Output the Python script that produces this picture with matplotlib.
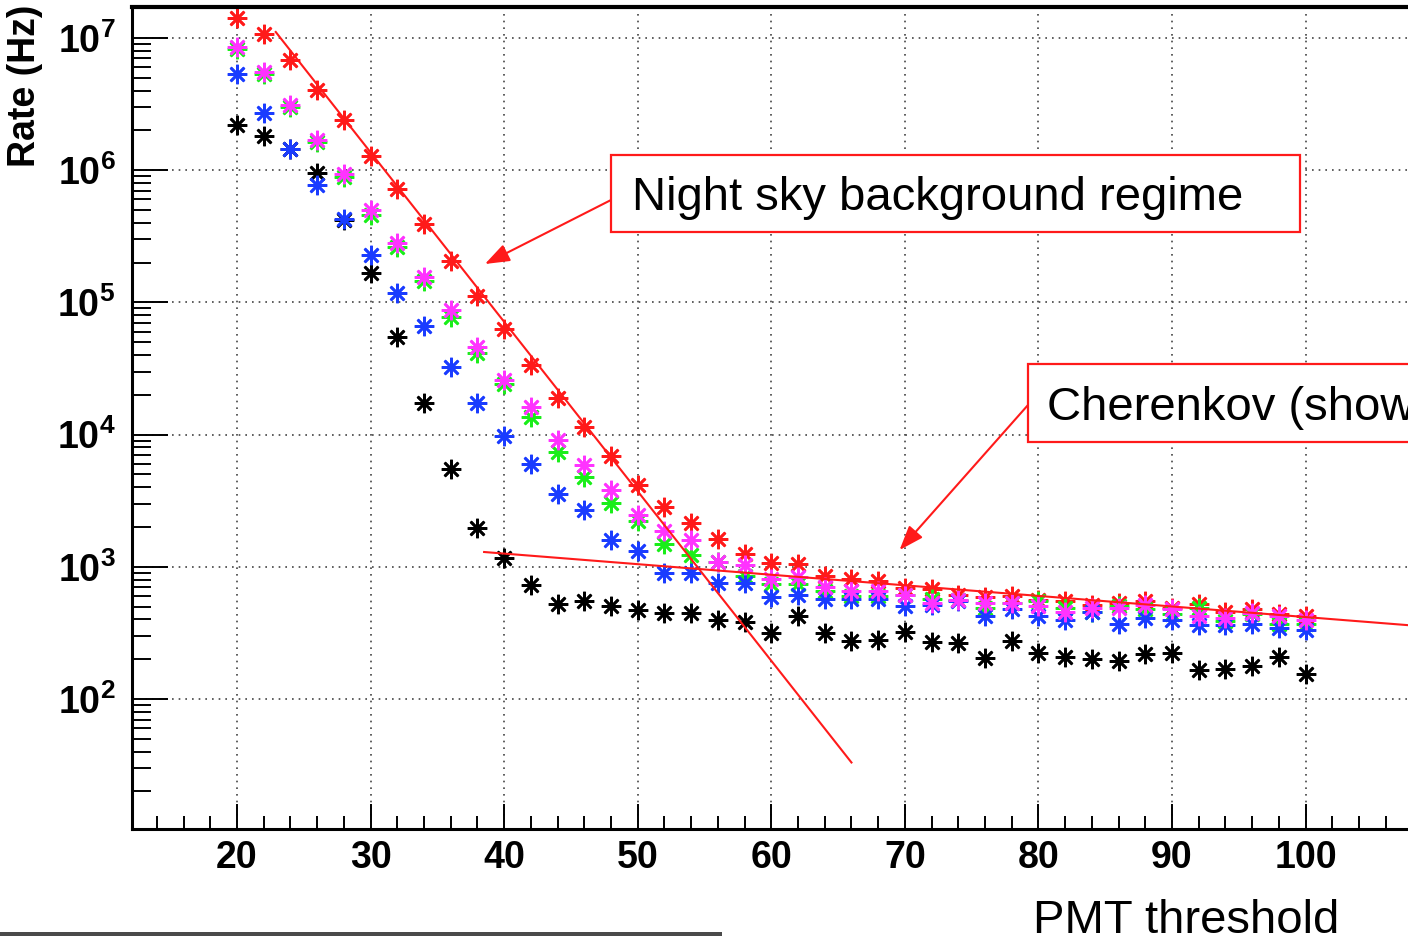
import numpy as np
import matplotlib
matplotlib.use('Agg')
import matplotlib.pyplot as plt
from matplotlib.patches import Rectangle
from matplotlib.ticker import MultipleLocator, LogLocator, NullFormatter

plt.rcParams['font.family'] = ['Liberation Sans', 'DejaVu Sans']
plt.rcParams['mathtext.fontset'] = 'custom'
plt.rcParams['mathtext.rm'] = 'Liberation Sans'
plt.rcParams['mathtext.bf'] = 'Liberation Sans:bold'

# PMT threshold values and trigger rates (log10 of rate in Hz)
threshold = list(range(20, 101, 2))

red_log = [7.15, 7.03, 6.83, 6.61, 6.38, 6.11, 5.86, 5.59, 5.31, 5.05, 4.80,
           4.53, 4.28, 4.06, 3.84, 3.62, 3.45, 3.33, 3.21, 3.10, 3.03, 3.02,
           2.93, 2.91, 2.89, 2.84, 2.83, 2.79, 2.77, 2.78, 2.75, 2.74, 2.71,
           2.73, 2.74, 2.69, 2.72, 2.66, 2.68, 2.64, 2.63]
magenta_log = [6.93, 6.74, 6.49, 6.23, 5.97, 5.70, 5.45, 5.19, 4.94, 4.66, 4.41,
               4.21, 3.96, 3.77, 3.58, 3.39, 3.27, 3.20, 3.04, 3.01, 2.91, 2.92,
               2.85, 2.82, 2.82, 2.79, 2.73, 2.75, 2.73, 2.73, 2.70, 2.66, 2.69,
               2.69, 2.71, 2.68, 2.63, 2.61, 2.65, 2.63, 2.60]
green_log = [6.92, 6.73, 6.48, 6.21, 5.95, 5.66, 5.42, 5.16, 4.89, 4.62, 4.38,
             4.13, 3.87, 3.68, 3.48, 3.35, 3.17, 3.09, 3.04, 2.93, 2.87, 2.87,
             2.82, 2.78, 2.78, 2.79, 2.76, 2.75, 2.69, 2.73, 2.74, 2.69, 2.66,
             2.70, 2.68, 2.64, 2.69, 2.59, 2.64, 2.57, 2.57]
blue_log = [6.73, 6.43, 6.16, 5.89, 5.63, 5.36, 5.07, 4.82, 4.51, 4.24, 3.99,
            3.78, 3.55, 3.43, 3.20, 3.12, 2.95, 2.95, 2.88, 2.88, 2.77, 2.79,
            2.76, 2.76, 2.76, 2.70, 2.71, 2.74, 2.63, 2.68, 2.63, 2.60, 2.66,
            2.57, 2.61, 2.60, 2.56, 2.56, 2.57, 2.54, 2.52]
black_log = [6.34, 6.26, 6.16, 5.98, 5.62, 5.22, 4.74, 4.24, 3.74, 3.29, 3.07,
             2.86, 2.72, 2.74, 2.70, 2.67, 2.65, 2.65, 2.60, 2.58, 2.50, 2.63,
             2.50, 2.44, 2.45, 2.51, 2.43, 2.42, 2.31, 2.44, 2.35, 2.32, 2.30,
             2.29, 2.34, 2.35, 2.22, 2.23, 2.25, 2.32, 2.19]

# hand-drawn guide lines (threshold, log10 rate)
nsb_line_x = [22.9, 66.0]
nsb_line_log = [7.045, 1.52]
cher_line_x = [38.5, 115.0]
cher_line_log = [3.112, 2.50]

decades = [2, 3, 4, 5, 6, 7]
x_major = [20, 30, 40, 50, 60, 70, 80, 90, 100]

W, H = 1408, 936
RED = '#ff1a1a'


def fig_xy(px, py):
    # pixel position measured from the top-left corner -> figure fraction
    return px / W, 1 - py / H


fig = plt.figure(figsize=(W / 100, H / 100), dpi=100)
ax = fig.add_axes([132 / W, (H - 829) / H, 1374 / W, 822 / H])
ax.set_yscale('log')
ax.set_xlim(12.14, 115)
ax.set_ylim(10 ** 1.017, 10 ** 7.234)

series = [(black_log, 'black'), (red_log, RED), (green_log, '#1aee1a'),
          (blue_log, '#1a3cff'), (magenta_log, '#ff33ff')]
for vals, col in series:
    ax.plot(threshold, 10 ** np.array(vals), linestyle='none', marker=(8, 2, 0),
            markersize=14, markeredgewidth=1.9, color=col)

ax.plot(nsb_line_x, 10 ** np.array(nsb_line_log), color=RED, lw=1.5)
ax.plot(cher_line_x, 10 ** np.array(cher_line_log), color=RED, lw=1.5)

# axes styling (ROOT look)
ax.set_xticks(x_major)
ax.xaxis.set_minor_locator(MultipleLocator(2))
ax.yaxis.set_minor_locator(LogLocator(base=10, subs=np.arange(2, 10)))
ax.yaxis.set_minor_formatter(NullFormatter())
ax.set_yticks([10.0 ** e for e in decades])
ax.set_yticklabels([r'$\mathbf{10^{%d}}$' % e for e in decades])
ax.tick_params(axis='x', which='major', direction='in', length=18, width=1.4,
               labelsize=27, pad=8)
ax.tick_params(axis='x', which='minor', direction='in', length=9.5, width=1.4)
ax.tick_params(axis='y', which='major', direction='in', length=26, width=1.4,
               labelsize=27, pad=12)
ax.tick_params(axis='y', which='minor', direction='in', length=14, width=1.4)
for lab in ax.get_xticklabels():
    lab.set_fontweight('bold')

ax.grid(True, which='major', linestyle=(0, (1, 3)), color='#444444', lw=1.2)
ax.spines['left'].set_linewidth(2.2)
ax.spines['bottom'].set_linewidth(2.2)
ax.spines['top'].set_linewidth(3)
ax.spines['right'].set_visible(False)

ax.set_ylabel('Rate (Hz)', fontsize=27, fontweight='bold', loc='top')
ax.yaxis.set_label_coords(-107 / 1374, 1 + 2 / 822)
ax.yaxis.label.set_va('center')

ax.set_xlabel('PMT threshold', fontsize=34)
ax.xaxis.set_label_coords((1033 - 132) / 1374, -(933 - 829) / 822)
ax.xaxis.label.set_ha('left')
ax.xaxis.label.set_va('baseline')

# annotation boxes
x0, y0 = fig_xy(611, 232)
fig.patches.append(Rectangle((x0, y0), 689 / W, 77 / H, transform=fig.transFigure,
                             fill=True, facecolor='white', edgecolor=RED, lw=1.6, zorder=5))
fig.text(*fig_xy(632, 210), 'Night sky background regime', fontsize=34,
         va='baseline', ha='left', zorder=6)

x1, y1 = fig_xy(1028, 442)
fig.patches.append(Rectangle((x1, y1), 700 / W, 78 / H, transform=fig.transFigure,
                             fill=True, facecolor='white', edgecolor=RED, lw=1.6, zorder=5))
fig.text(*fig_xy(1047, 420), 'Cherenkov (shower) regime', fontsize=34,
         va='baseline', ha='left', zorder=6)

arrow = dict(arrowstyle='-|>,head_length=0.6,head_width=0.22', color=RED, lw=1.5,
             mutation_scale=25, shrinkA=0, shrinkB=0)
ax.annotate('', xy=(38.56, 10 ** 5.29), xycoords='data',
            xytext=fig_xy(611, 200), textcoords='figure fraction', arrowprops=arrow)
ax.annotate('', xy=(69.6, 10 ** 3.127), xycoords='data',
            xytext=fig_xy(1028, 405), textcoords='figure fraction', arrowprops=arrow)

# strip of a neighbouring picture at the bottom-left of the slide
fig.patches.append(Rectangle((0, 0), 722 / W, 4 / H, transform=fig.transFigure,
                             facecolor='#4a4a4a', edgecolor='none'))

fig.savefig('out.png', dpi=100)
